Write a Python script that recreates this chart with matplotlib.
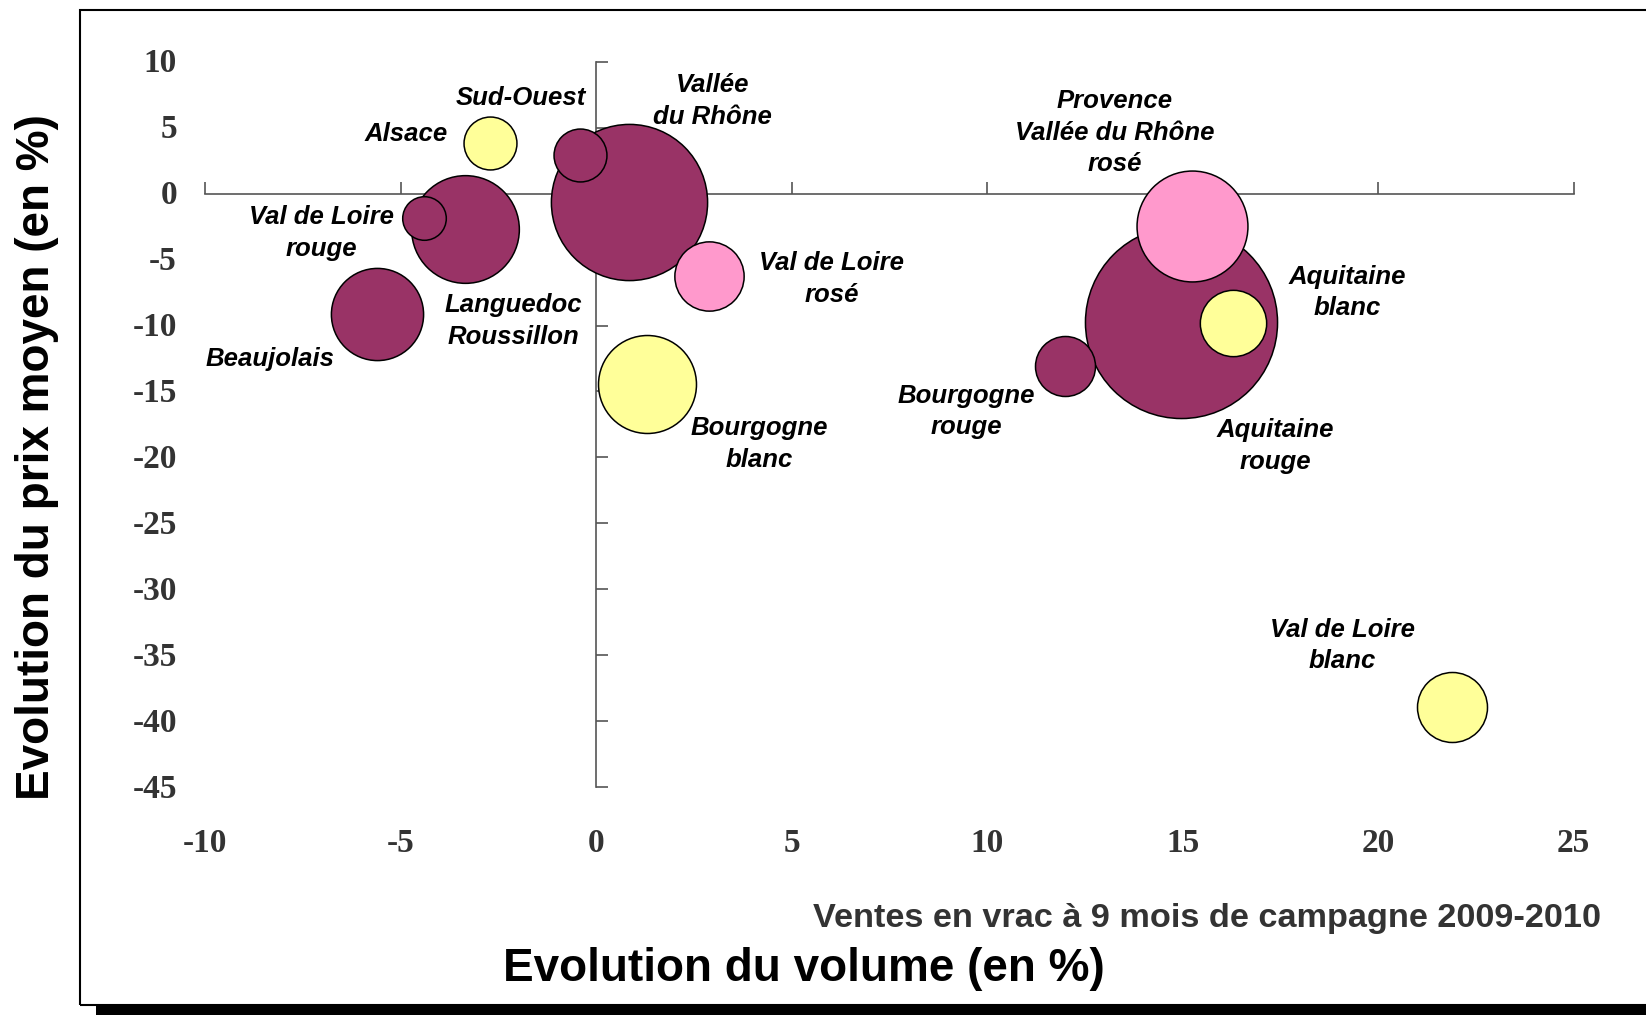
import matplotlib
matplotlib.use('Agg')
import matplotlib.pyplot as plt
from matplotlib import transforms
from matplotlib.patches import Rectangle

# bulk wine sales, 9 months into the 2009-2010 campaign
regions = ['Alsace', 'Sud-Ouest', 'Vallée\ndu Rhône', 'Languedoc\nRoussillon',
           'Val de Loire\nrouge', 'Beaujolais', 'Bourgogne\nblanc', 'Val de Loire\nrosé',
           'Provence\nVallée du Rhône\nrosé', 'Aquitaine\nrouge', 'Aquitaine\nblanc',
           'Bourgogne\nrouge', 'Val de Loire\nblanc']
wine_type = ['blanc', 'rouge', 'rouge', 'rouge', 'rouge', 'rouge', 'blanc', 'rosé',
             'rosé', 'rouge', 'blanc', 'rouge', 'blanc']
volume_change = [-2.7, -0.4, 0.85, -3.35, -4.4, -5.6, 1.3, 2.9, 15.25, 14.95, 16.3, 12.0, 21.9]
price_change = [3.85, 2.9, -0.65, -2.7, -1.85, -9.15, -14.45, -6.25, -2.45, -9.75, -9.8, -13.05, -38.9]
volume = [28, 28, 244, 116, 19, 85, 96, 48, 123, 369, 44, 36, 49]  # relative bubble size

x_ticks = [-10, -5, 0, 5, 10, 15, 20, 25]
y_ticks = [10, 5, 0, -5, -10, -15, -20, -25, -30, -35, -40, -45]

# label offsets from bubble centre, in points
label_offsets = [(-61, 6), (-43, 41), (60, 73), (35, -66), (-74, -11), (-77, -32), (81, -43),
                 (88, -2), (-56, 67), (68, -89), (82, 22), (-71, -33), (-79, 44)]

colors = {'rouge': '#993366', 'blanc': '#FFFF99', 'rosé': '#FF99CC'}
SIZE_SCALE = 51.84

fig = plt.figure(figsize=(16.46, 10.15), dpi=100)
ax = fig.add_axes([0, 0, 1, 1])
ax.set_xlim(-15.243, 26.853)
ax.set_ylim(-62.274, 14.678)
ax.patch.set_alpha(0)

for s in ('top', 'right'):
    ax.spines[s].set_visible(False)
ax.spines['bottom'].set_position(('data', 0))
ax.spines['left'].set_position(('data', 0))
ax.spines['bottom'].set_bounds(-10, 25)
ax.spines['left'].set_bounds(-45, 10)
for s in ('bottom', 'left'):
    ax.spines[s].set_color('#555555')
    ax.spines[s].set_linewidth(1.2)
ax.set_xticks(x_ticks)
ax.set_yticks(y_ticks)
ax.tick_params(direction='in', length=8.5, width=1.2, color='#555555',
               labelbottom=False, labelleft=False)

tick_font = dict(family='Liberation Serif', weight='bold', size=24, color='#333333')
bx = transforms.blended_transform_factory(ax.transData, ax.transAxes)
by = transforms.blended_transform_factory(ax.transAxes, ax.transData)
by = transforms.offset_copy(by, fig=fig, y=-2, units='dots')
for v in x_ticks:
    ax.text(v, 0.1688, str(v), transform=bx, ha='center', va='center', **tick_font)
for v in y_ticks:
    ax.text(0.1075, v, str(v), transform=by, ha='right', va='center', **tick_font)

# largest bubbles drawn first
order = sorted(range(len(regions)), key=lambda i: -volume[i])
for z, i in enumerate(order):
    ax.scatter(volume_change[i], price_change[i], s=volume[i] * SIZE_SCALE,
               color=colors[wine_type[i]], edgecolor='black', linewidth=1.1, zorder=3 + z)

for i, name in enumerate(regions):
    ax.annotate(name, (volume_change[i], price_change[i]), xytext=label_offsets[i],
                textcoords='offset points', ha='center', va='center', multialignment='center',
                fontsize=18.5, fontweight='bold', fontstyle='italic', family='Liberation Sans',
                linespacing=1.4, zorder=20)

fig.text(37 / 1646, 1 - 457 / 1015, 'Evolution du prix moyen (en %)', rotation=90,
         ha='center', va='center', fontsize=33, fontweight='bold', family='Liberation Sans')
fig.text(804 / 1646, 1 - 969 / 1015, 'Evolution du volume (en %)', ha='center', va='center',
         fontsize=33, fontweight='bold', family='Liberation Sans')
fig.text(1601 / 1646, 1 - 919 / 1015, 'Ventes en vrac à 9 mois de campagne 2009-2010',
         ha='right', va='center', fontsize=24.7, fontweight='bold', color='#333333',
         family='Liberation Sans')

# chart frame with drop shadow
fig.patches.append(Rectangle((80 / 1646, 10 / 1015), 1.1, 995 / 1015, transform=fig.transFigure,
                             fill=False, edgecolor='black', linewidth=1.5))
fig.patches.append(Rectangle((96 / 1646, 0), 1.0, 9 / 1015, transform=fig.transFigure,
                             facecolor='black', edgecolor='none'))

fig.savefig('out.png', dpi=100)
